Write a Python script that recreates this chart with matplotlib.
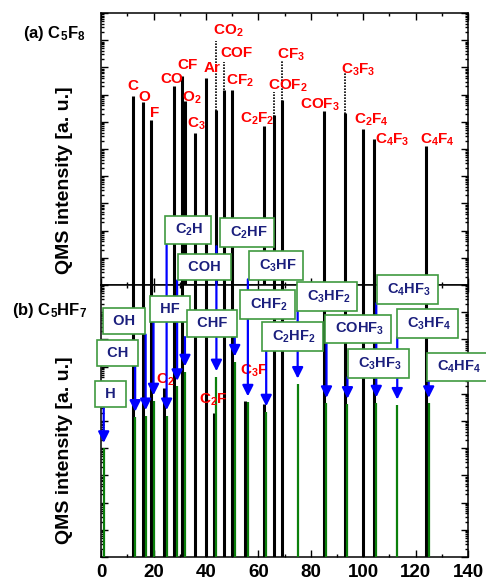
import matplotlib.pyplot as plt
from matplotlib.ticker import MultipleLocator, LogLocator, NullFormatter

plt.rcParams['font.family'] = ['Liberation Sans', 'DejaVu Sans']
plt.rcParams['font.weight'] = 'bold'
plt.rcParams['mathtext.fontset'] = 'custom'
plt.rcParams['mathtext.rm'] = 'Liberation Sans:bold'
plt.rcParams['mathtext.default'] = 'rm'

# (a) C5F8 : mass numbers and QMS intensities (a.u.)
c5f8_mass = [12, 16, 19, 28, 31, 32, 36, 40, 44, 47, 50, 62, 66, 69, 85, 93, 100, 104, 124]
c5f8_int = [9.1e6, 5.5e6, 1.2e6, 2.1e7, 4.8e7, 5.8e6, 4.0e5, 4.2e7, 2.7e6, 1.5e7, 1.5e7,
            7.2e5, 1.8e6, 6.3e6, 2.5e6, 2.1e6, 5.5e5, 2.3e5, 1.3e5]
c5f8_names = ['C', 'O', 'F', 'CO', 'CF', 'O$_2$', 'C$_3$', 'Ar', 'CO$_2$', 'COF', 'CF$_2$',
              'C$_2$F$_2$', 'COF$_2$', 'CF$_3$', 'COF$_3$', 'C$_3$F$_3$', 'C$_2$F$_4$',
              'C$_4$F$_3$', 'C$_4$F$_4$']
# peak values (thin dotted part)
peak_mass = [44, 47, 66, 69, 93]
peak_int = [9.5e8, 1.55e8, 1.2e7, 1.74e8, 6.0e7]

# (b) C5HF7 : black = non-H fragments, green = H-containing fragments
b_black_mass = [12, 16, 19, 24, 28, 31, 36, 40, 43, 47, 50, 55, 62, 66, 69, 85, 93, 100, 104, 124]
b_black_int = [1e11, 1e11, 1e11, 1.6e6, 1e11, 1e11, 1e11, 1e11, 1.9e5, 1e11, 1e11, 5.6e5,
               4.2e5, 1e11, 1e11, 1e11, 1e11, 1e11, 1e11, 1e11]
b_red_mass = [24, 43, 55]
b_red_names = ['C$_2$', 'C$_2$F', 'C$_3$F']

h_mass = [1, 13, 17, 20, 25, 29, 32, 44, 51, 56, 63, 75, 86, 94, 105, 113, 125]
h_int = [1.0e4, 1.4e5, 1.6e5, 5.6e5, 1.6e5, 1.9e6, 6.5e6, 4.3e6, 1.5e7, 5.1e5, 2.2e5,
         2.3e6, 4.5e5, 4.2e5, 4.7e5, 3.9e5, 4.5e5]
h_names = ['H', 'CH', 'OH', 'HF', 'C$_2$H', 'COH', 'CHF', 'C$_2$HF', 'CHF$_2$', 'C$_3$HF',
           'C$_2$HF$_2$', 'C$_3$HF$_2$', 'COHF$_3$', 'C$_3$HF$_3$', 'C$_4$HF$_3$',
           'C$_3$HF$_4$', 'C$_4$HF$_4$']

# label positions (x, log10 y)
top_lab_pos = [(12.1, 7.32), (16.4, 6.92), (20.6, 6.33), (27.0, 7.57), (32.8, 8.09),
               (34.6, 6.90), (36.3, 5.94), (42.2, 7.97), (48.4, 9.35), (51.6, 8.52),
               (53.0, 7.50), (59.7, 6.10), (71.4, 7.33), (72.6, 8.47), (83.5, 6.62),
               (98.1, 7.92), (103.3, 6.07), (110.9, 5.33), (128.5, 5.33)]
bot_red_pos = [(24.7, 6.51), (42.8, 5.77), (58.4, 6.86)]
box_pos = [(3.5, 5.99), (6.3, 7.51), (8.8, 8.68), (26.3, 9.12), (33.2, 12.02), (39.3, 10.67),
           (42.3, 8.59), (55.7, 11.93), (63.4, 9.29), (66.8, 10.71), (73.1, 8.10),
           (86.2, 9.57), (98.1, 8.38), (105.7, 7.11), (116.9, 9.83), (124.6, 8.58),
           (136.0, 6.99)]

fig = plt.figure(figsize=(4.86, 5.81), dpi=100)
ax1 = fig.add_axes([0.208, 0.5095, 0.755, 0.468])
ax2 = fig.add_axes([0.208, 0.0413, 0.755, 0.468])

for ax in (ax1, ax2):
    ax.set_yscale('log')
    ax.set_ylim(1, 1e10)
    ax.set_xlim(0, 140)
    ax.xaxis.set_major_locator(MultipleLocator(20))
    ax.xaxis.set_minor_locator(MultipleLocator(10))
    ax.yaxis.set_major_locator(LogLocator(base=10, numticks=20))
    ax.yaxis.set_minor_locator(LogLocator(base=10, subs=range(2, 10), numticks=20))
    ax.yaxis.set_major_formatter(NullFormatter())
    ax.yaxis.set_minor_formatter(NullFormatter())
    ax.tick_params(which='both', direction='in', top=True, right=True, width=1)
    ax.tick_params(which='major', length=5)
    ax.tick_params(which='minor', length=2.5)
    for s in ax.spines.values():
        s.set_linewidth(1.1)

ax1.tick_params(labelbottom=False)
ax2.tick_params(axis='x', labelsize=13.5, pad=5)
for t in ax2.get_xticklabels():
    t.set_fontweight('bold')

# top panel
ax1.vlines(peak_mass, 1, peak_int, colors='k', lw=1.2, linestyles=(0, (1, 0.8)))
ax1.vlines(c5f8_mass, 1, c5f8_int, colors='k', lw=2.2)
for name, (x, e) in zip(c5f8_names, top_lab_pos):
    ax1.text(x, 10 ** e, name, color='red', fontsize=11, fontweight='bold',
             ha='center', va='center')

# bottom panel
ax2.vlines(b_black_mass, 1, b_black_int, colors='k', lw=2.2, zorder=2)
ax2.vlines(h_mass, 1, h_int, colors='#0b7f0b', lw=1.6, zorder=3)
for name, (x, e) in zip(b_red_names, bot_red_pos):
    ax2.text(x, 10 ** e, name, color='red', fontsize=11, fontweight='bold',
             ha='center', va='center', zorder=4)

for m, v, name, (x, e) in zip(h_mass, h_int, h_names, box_pos):
    ax2.annotate('', xy=(m, v * 10 ** 0.2), xytext=(m, 10 ** (e - 0.5)),
                 arrowprops=dict(arrowstyle='-|>,head_length=0.5,head_width=0.25',
                                 color='blue', lw=1.6, mutation_scale=13,
                                 shrinkA=0, shrinkB=0),
                 annotation_clip=False, zorder=5)
    ax2.text(x, 10 ** e, ' ' + name + ' ', color='#1b1f7d', fontsize=10.5,
             fontweight='bold', ha='center', va='center', clip_on=False, zorder=6,
             bbox=dict(boxstyle='square,pad=0.42', facecolor='white',
                       edgecolor='#3f9a3f', lw=1.2))

fig.text(0.133, 0.690, 'QMS intensity [a. u.]', rotation=90, fontsize=14,
         fontweight='bold', ha='center', va='center')
fig.text(0.133, 0.225, 'QMS intensity [a. u.]', rotation=90, fontsize=14,
         fontweight='bold', ha='center', va='center')
fig.text(0.047, 0.943, '(a) C$_5$F$_8$', fontsize=12, fontweight='bold', ha='left', va='center')
fig.text(0.024, 0.466, '(b) C$_5$HF$_7$', fontsize=12, fontweight='bold', ha='left', va='center')

fig.savefig('out.png', dpi=100)
